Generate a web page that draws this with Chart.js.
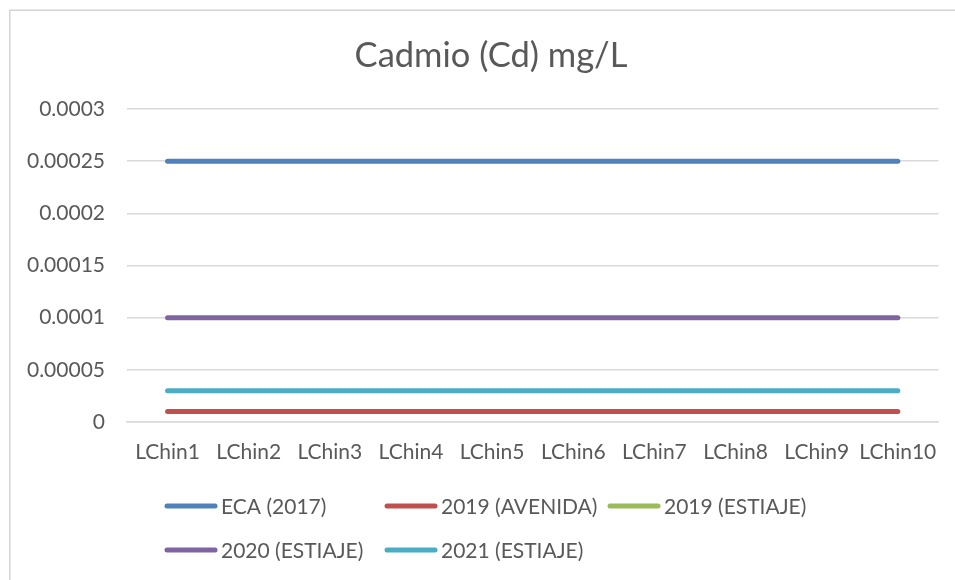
<!DOCTYPE html>
<html>
<head>
<meta charset="utf-8">
<script src="https://cdn.jsdelivr.net/npm/chart.js@4/dist/chart.umd.min.js"></script>
<style>
  html, body { margin: 0; padding: 0; background: #ffffff; }
  #wrap { width: 955px; height: 580px; position: relative; }
</style>
</head>
<body>
<div id="wrap"><canvas id="c" width="955" height="580"></canvas></div>
<script>
const chartTitle = 'Cadmio (Cd) mg/L';
const categories = ['LChin1', 'LChin2', 'LChin3', 'LChin4', 'LChin5', 'LChin6', 'LChin7', 'LChin8', 'LChin9', 'LChin10'];
const seriesNames = ['ECA (2017)', '2019 (AVENIDA)', '2019 (ESTIAJE)', '2020 (ESTIAJE)', '2021 (ESTIAJE)'];
const eca2017 = [0.00025, 0.00025, 0.00025, 0.00025, 0.00025, 0.00025, 0.00025, 0.00025, 0.00025, 0.00025];
const avenida2019 = [0.00001, 0.00001, 0.00001, 0.00001, 0.00001, 0.00001, 0.00001, 0.00001, 0.00001, 0.00001];
const estiaje2019 = [null, null, null, null, null, null, null, null, null, null];
const estiaje2020 = [0.0001, 0.0001, 0.0001, 0.0001, 0.0001, 0.0001, 0.0001, 0.0001, 0.0001, 0.0001];
const estiaje2021 = [0.00003, 0.00003, 0.00003, 0.00003, 0.00003, 0.00003, 0.00003, 0.00003, 0.00003, 0.00003];
const yTickLabels = ['0', '0.00005', '0.0001', '0.00015', '0.0002', '0.00025', '0.0003'];
const seriesColors = ['#4f81bd', '#c0504d', '#9bbb59', '#8064a2', '#4bacc6'];

const FONT = 'Lato, "Open Sans", sans-serif';
const TEXT = '#595959';
const GRID = '#d9d9d9';

const seriesData = [eca2017, avenida2019, estiaje2019, estiaje2020, estiaje2021];

const frame = {
  id: 'frame',
  afterLayout(chart) {
    // widen the label clip region of the value axis so its labels are not cut
    chart.scales.y.left = 0;
  },
  beforeDraw(chart) {
    const ctx = chart.ctx;
    ctx.save();
    ctx.strokeStyle = '#d4d4d4';
    ctx.lineWidth = 1.5;
    ctx.beginPath();
    ctx.moveTo(9.75, 580);
    ctx.lineTo(9.75, 10.25);
    ctx.lineTo(955, 10.25);
    ctx.stroke();
    ctx.restore();
  }
};

const legendGrid = {
  id: 'legendGrid',
  afterDraw(chart) {
    const ctx = chart.ctx;
    const colX = [165, 385, 608];
    const rowY = [506, 550];
    ctx.save();
    ctx.font = '21px ' + FONT;
    ctx.textBaseline = 'middle';
    ctx.textAlign = 'left';
    chart.data.datasets.forEach((ds, i) => {
      const x = colX[i % 3];
      const y = rowY[Math.floor(i / 3)];
      ctx.strokeStyle = ds.borderColor;
      ctx.lineWidth = 5;
      ctx.lineCap = 'round';
      ctx.beginPath();
      ctx.moveTo(x + 2, y);
      ctx.lineTo(x + 50, y);
      ctx.stroke();
      ctx.fillStyle = TEXT;
      ctx.fillText(ds.label, x + 56, y + 1);
    });
    ctx.restore();
  }
};

new Chart(document.getElementById('c'), {
  type: 'line',
  data: {
    labels: categories,
    datasets: seriesNames.map((name, i) => ({
      label: name,
      data: seriesData[i],
      borderColor: seriesColors[i],
      backgroundColor: seriesColors[i],
      borderWidth: 5,
      borderCapStyle: 'round',
      pointRadius: 0,
      pointHoverRadius: 0,
      fill: false,
      tension: 0,
      spanGaps: false
    }))
  },
  options: {
    responsive: false,
    animation: false,
    devicePixelRatio: 1,
    layout: { padding: { left: 41, right: 14, top: 0, bottom: 98 } },
    plugins: {
      legend: { display: false },
      tooltip: { enabled: false },
      title: {
        display: true,
        text: chartTitle,
        color: TEXT,
        font: { family: FONT, size: 34.5, weight: 'normal', lineHeight: 1.25 },
        padding: { top: 34, bottom: 31.875 }
      }
    },
    scales: {
      x: {
        type: 'category',
        offset: true,
        grid: { display: false, drawTicks: false },
        border: { display: true, color: GRID, width: 1.5 },
        ticks: { color: TEXT, font: { family: FONT, size: 21 }, padding: 18, maxRotation: 0, autoSkip: false },
        afterFit(scale) { scale.height = 60; }
      },
      y: {
        min: 0,
        max: 0.0003,
        grid: { color: GRID, lineWidth: 1.5, drawTicks: false },
        border: { display: false },
        ticks: {
          stepSize: 0.00005,
          color: TEXT,
          font: { family: FONT, size: 21 },
          padding: 22,
          callback: (v, i) => yTickLabels[i]
        },
        afterFit(scale) { scale.width = 86; }
      }
    }
  },
  plugins: [frame, legendGrid]
});
</script>
</body>
</html>
